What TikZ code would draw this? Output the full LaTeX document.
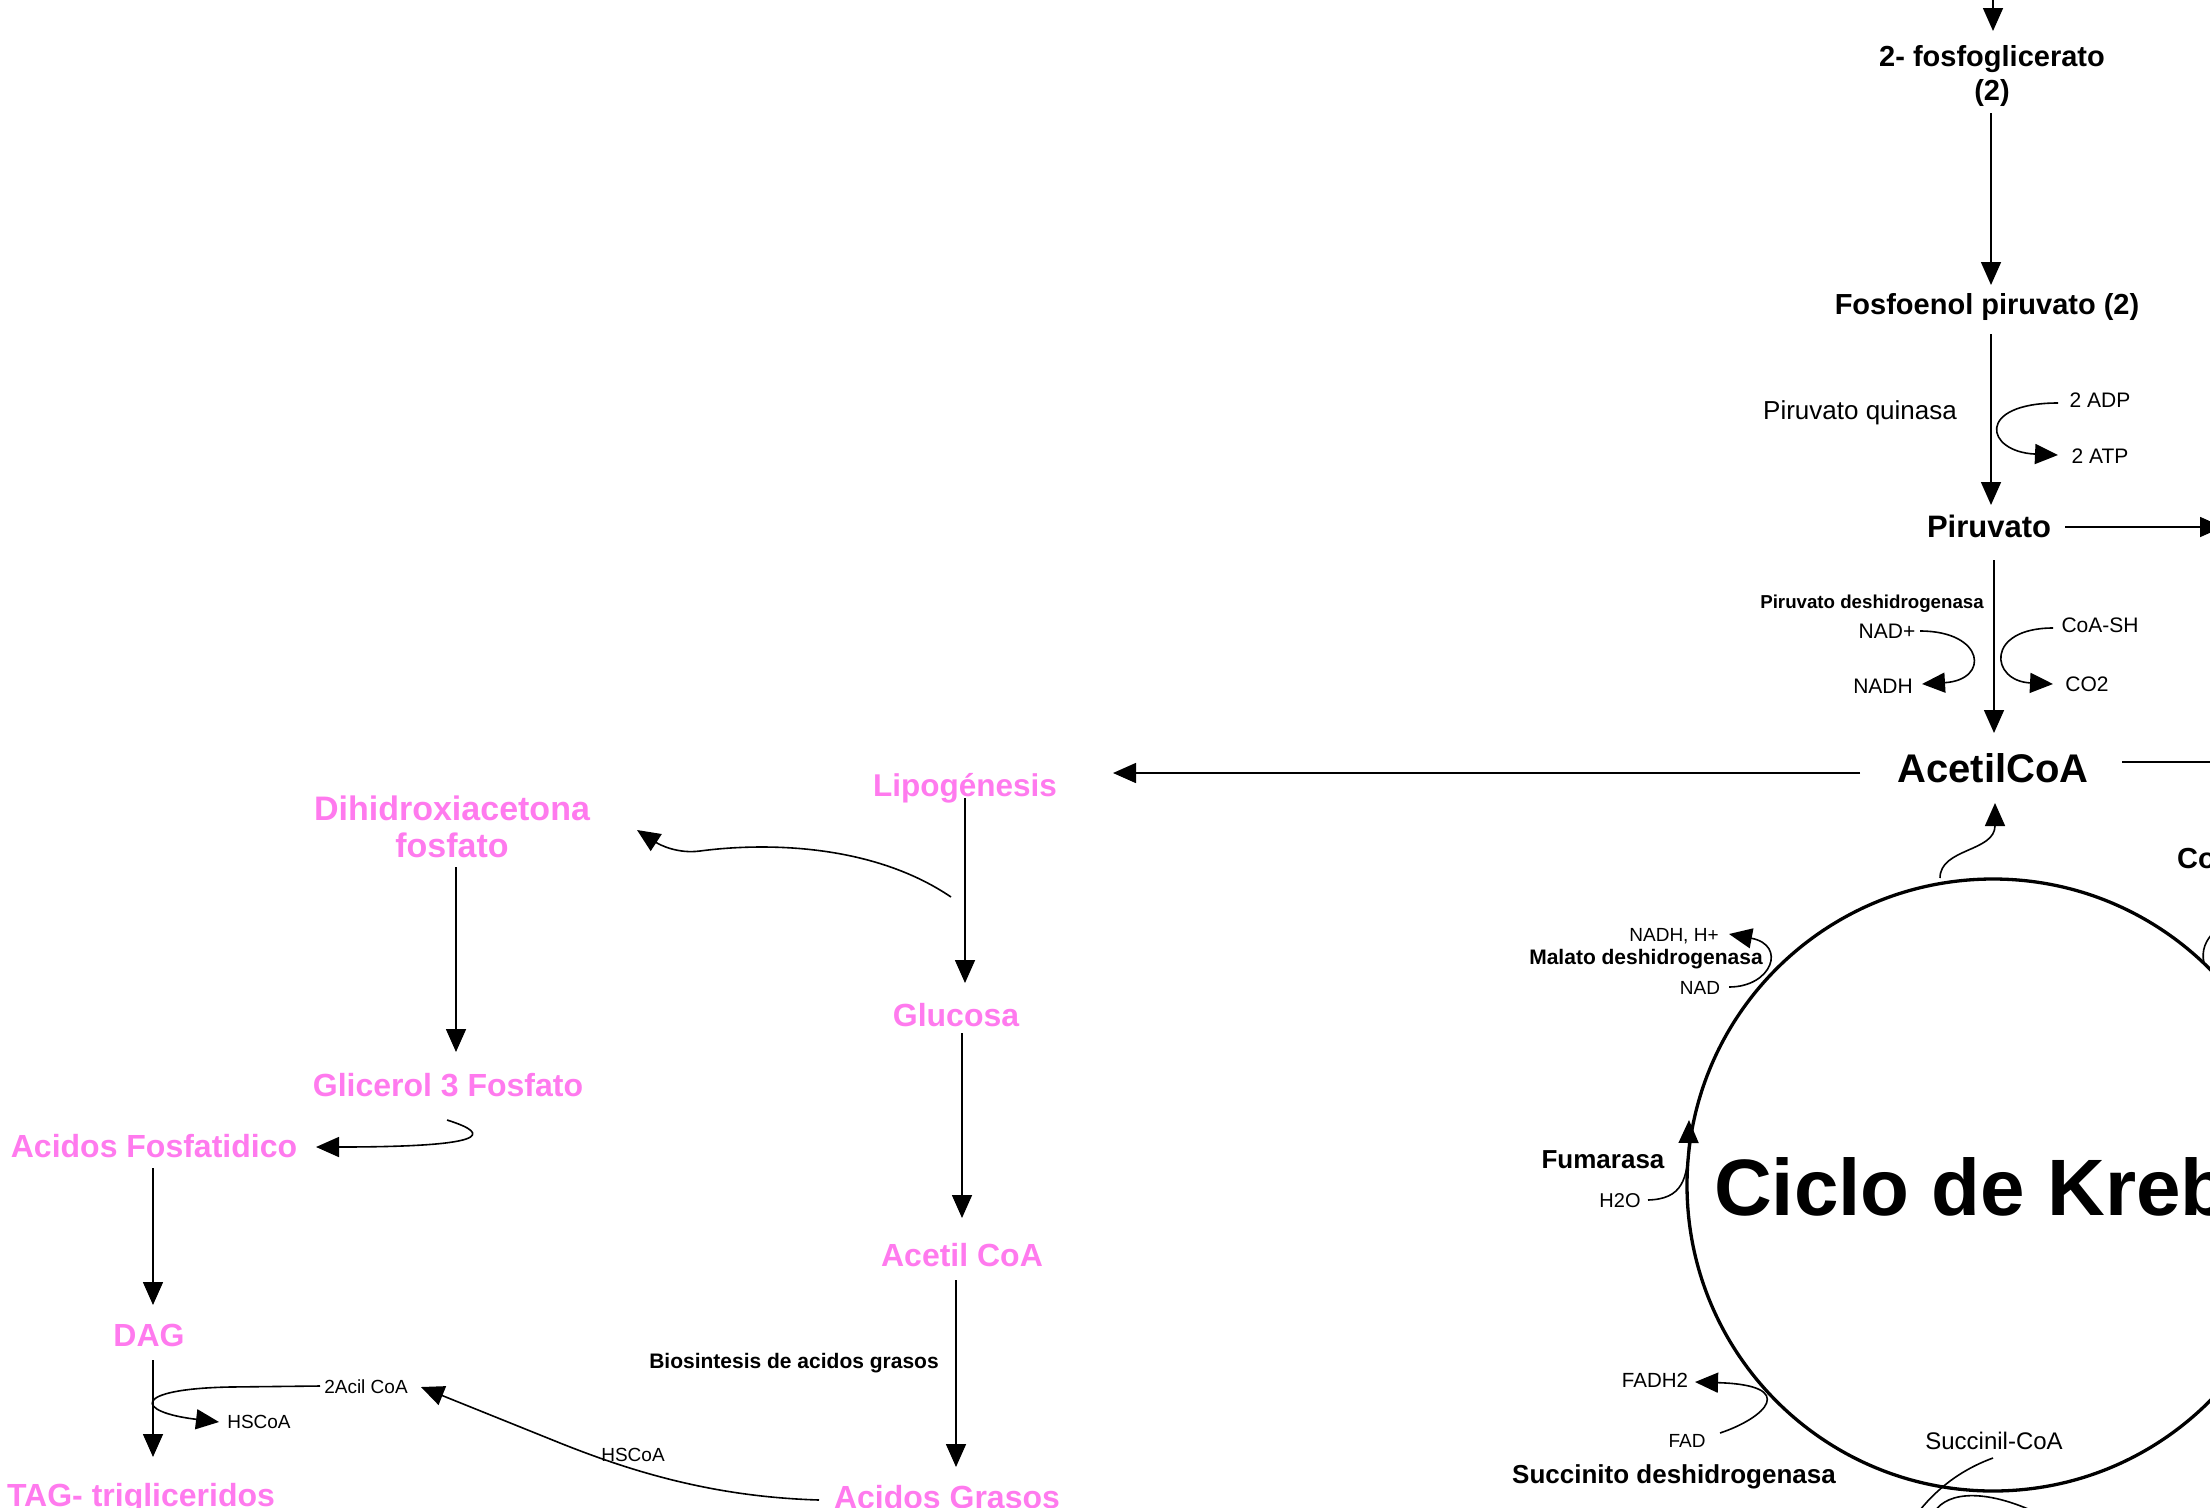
\documentclass[tikz,border=0pt]{standalone}
\usepackage{fontspec}
\setmainfont{Liberation Sans}
\usetikzlibrary{arrows.meta}
\definecolor{pinkc}{RGB}{255,122,238}
\newcommand{\fsz}[1]{\fontsize{#1}{#1}\selectfont}
\begin{document}
\begin{tikzpicture}[x=1pt,y=-1pt,
  ln/.style={line width=1.6pt},
  arr/.style={ln,-{Triangle[length=23pt,width=20pt]}},
  lbl/.style={inner sep=0pt, anchor=base},
  pk/.style={lbl, text=pinkc, font=\bfseries\fsz{32}},
]
\useasboundingbox (0,0) rectangle (2210,1507);
\clip (0,0) rectangle (2210,1507);

% ---------- right column ----------
\node[inner sep=0pt, anchor=north, align=center, font=\bfseries\fontsize{29}{34}\selectfont] (fg) at (1992,45) {2- fosfoglicerato\\(2)};
\node[lbl, font=\bfseries\fsz{29}] (fe) at (1987,314) {Fosfoenol piruvato (2)};
\node[lbl, font=\fsz{26}] (pq) at (1860,419) {Piruvato quinasa};
\node[lbl, font=\fsz{21}] (adp) at (2100,407) {2 ADP};
\node[lbl, font=\fsz{21}] (atp) at (2100,463) {2 ATP};
\node[lbl, font=\bfseries\fsz{31}] (pir) at (1989,537) {Piruvato};
\node[lbl, font=\bfseries\fsz{18.7}] (pdh) at (1872,608) {Piruvato deshidrogenasa};
\node[lbl, font=\fsz{21}] (nadp) at (1887,638) {NAD+};
\node[lbl, font=\fsz{21}] (nadh) at (1883,693) {NADH};
\node[lbl, font=\fsz{21}] (coash) at (2100,632) {CoA-SH};
\node[lbl, font=\fsz{21}] (co2) at (2087,691) {CO2};
\node[lbl, font=\bfseries\fsz{40}] (acoa) at (1993,782) {AcetilCoA};
\node[inner sep=0pt, anchor=base west, font=\bfseries\fsz{29}] (co) at (2177,868) {Co};

\node[draw, circle, line width=3.3pt, minimum size=612pt, inner sep=0pt] (krebs) at (1993,1185) {};
\node[inner sep=0pt, anchor=base west, font=\bfseries\fsz{80}] (ck) at (1714,1215) {Ciclo de Krebs};

\node[lbl, font=\fsz{19}] (nadhh) at (1674,941) {NADH, H+};
\node[lbl, font=\bfseries\fsz{21}] (mdh) at (1646,964) {Malato deshidrogenasa};
\node[lbl, font=\fsz{19}] (nad) at (1700,994) {NAD};
\node[lbl, font=\bfseries\fsz{26}] (fum) at (1603,1168) {Fumarasa};
\node[lbl, font=\fsz{20}] (h2o) at (1620,1207) {H2O};
\node[lbl, font=\fsz{20.5}] (fadh2) at (1655,1387) {FADH2};
\node[lbl, font=\fsz{19}] (fad) at (1687,1447) {FAD};
\node[lbl, font=\bfseries\fsz{26}] (sdh) at (1674,1483) {Succinito deshidrogenasa};
\node[lbl, font=\fsz{24}] (scoa) at (1994,1449) {Succinil-CoA};

% ---------- left part ----------
\node[pk, font=\bfseries\fsz{31.5}] (lipo) at (965,796) {Lipogénesis};
\node[inner sep=0pt, anchor=north, align=center, text=pinkc, font=\bfseries\fontsize{34}{37}\selectfont] (dhap) at (452,796) {Dihidroxiacetona\\fosfato};
\node[pk] (g3p) at (448,1096) {Glicerol 3 Fosfato};
\node[pk] (afos) at (154,1157) {Acidos Fosfatidico};
\node[pk] (dag) at (149,1346) {DAG};
\node[pk] (tag) at (141,1506) {TAG- trigliceridos};
\node[pk] (gluc) at (956,1026) {Glucosa};
\node[pk] (acp) at (962,1266) {Acetil CoA};
\node[pk] (agr) at (947,1508) {Acidos Grasos};
\node[lbl, font=\bfseries\fsz{21}] (bio) at (794,1368) {Biosintesis de acidos grasos};
\node[lbl, font=\fsz{19}] (hs1) at (633,1461) {HSCoA};
\node[lbl, font=\fsz{19}] (acil) at (366,1393) {2Acil CoA};
\node[lbl, font=\fsz{19}] (hs2) at (259,1428) {HSCoA};

% ---------- connectors (right) ----------
\coordinate (t0) at (1993,-10); \coordinate (t1) at (1993,31);
\draw[arr] (t0) -- (t1);
\coordinate (fgS) at (1991,113); \coordinate (feN) at (1991,285);
\draw[arr] (fgS) -- (feN);
\coordinate (feS) at (1991,334); \coordinate (pirN) at (1991,505);
\draw[arr] (feS) -- (pirN);
\coordinate (adpW) at (2058,403); \coordinate (atpW) at (2058,455);
\draw[arr] (adpW) .. controls (1975,403) and (1985,452) .. (atpW);
\coordinate (pirE) at (2065,527); \coordinate (pirR) at (2223,527);
\draw[arr] (pirE) -- (pirR);
\coordinate (pirS) at (1994,560); \coordinate (acoaN) at (1994,733);
\draw[arr] (pirS) -- (acoaN);
\coordinate (nadpE) at (1920,631); \coordinate (nadhE) at (1922,684);
\draw[arr] (nadpE) .. controls (1985,631) and (1990,680) .. (nadhE);
\coordinate (coashW) at (2053,628); \coordinate (co2W) at (2053,684);
\draw[arr] (coashW) .. controls (1985,628) and (1990,681) .. (co2W);
\coordinate (acoaW) at (1860,773); \coordinate (lipoE) at (1113,773);
\draw[arr] (acoaW) -- (lipoE);
\coordinate (acoaE) at (2122,762); \coordinate (acoaR) at (2215,762);
\draw[ln] (acoaE) -- (acoaR);
\coordinate (kT) at (1940,878); \coordinate (acoaS) at (1995,803);
\draw[arr] (kT) .. controls (1940,848) and (1995,852) .. (acoaS);

\coordinate (nadE) at (1729,987); \coordinate (nadhhE) at (1729,934);
\draw[arr] (nadE) .. controls (1772,987) and (1787,945) .. (nadhhE);
\coordinate (h2oE) at (1648,1200); \coordinate (fumT) at (1689,1120);
\draw[arr] (h2oE) .. controls (1682,1199) and (1688,1180) .. (fumT);
\coordinate (fadE) at (1720,1433); \coordinate (fadh2E) at (1695,1382);
\draw[arr] (fadE) .. controls (1765,1418) and (1800,1385) .. (fadh2E);
\coordinate (s1) at (1993,1458); \coordinate (s2) at (1916,1515);
\draw[ln] (s1) .. controls (1960,1470) and (1935,1490) .. (s2);
\coordinate (s3) at (1933,1515); \coordinate (s4) at (2035,1512);
\draw[ln] (s3) .. controls (1942,1494) and (1978,1486) .. (s4);
\coordinate (r1) at (2204,963); \coordinate (r2) at (2214,932);
\draw[ln] (r1) .. controls (2201,950) and (2206,940) .. (r2);

% ---------- connectors (left) ----------
\coordinate (lipoS) at (965,798); \coordinate (glucN) at (965,983);
\draw[arr] (lipoS) -- (glucN);
\coordinate (lipoB) at (951,897); \coordinate (dhapE) at (637,830);
\draw[arr] (lipoB) .. controls (870,842) and (760,843) .. (700,851) .. controls (678,854) and (660,845) .. (dhapE);
\coordinate (dhapS) at (456,867); \coordinate (g3pN) at (456,1052);
\draw[arr] (dhapS) -- (g3pN);
\coordinate (g3pS) at (447,1120); \coordinate (afosE) at (316,1147);
\draw[arr] (g3pS) .. controls (495,1135) and (485,1147) .. (afosE);
\coordinate (afosS) at (153,1168); \coordinate (dagN) at (153,1305);
\draw[arr] (afosS) -- (dagN);
\coordinate (dagS) at (153,1360); \coordinate (tagN) at (153,1457);
\draw[arr] (dagS) -- (tagN);
\coordinate (acilW) at (320,1386); \coordinate (hs2W) at (219,1422);
\draw[arr] (acilW) -- (230,1387) .. controls (130,1389) and (135,1412) .. (hs2W);
\coordinate (glucS) at (962,1033); \coordinate (acpN) at (962,1218);
\draw[arr] (glucS) -- (acpN);
\coordinate (acpS) at (956,1280); \coordinate (agrN) at (956,1467);
\draw[arr] (acpS) -- (agrN);
\coordinate (agrW) at (819,1500); \coordinate (acilE) at (421,1387);
\draw[arr] (agrW) .. controls (720,1497) and (640,1475) .. (560,1443) -- (acilE);
\end{tikzpicture}
\end{document}
